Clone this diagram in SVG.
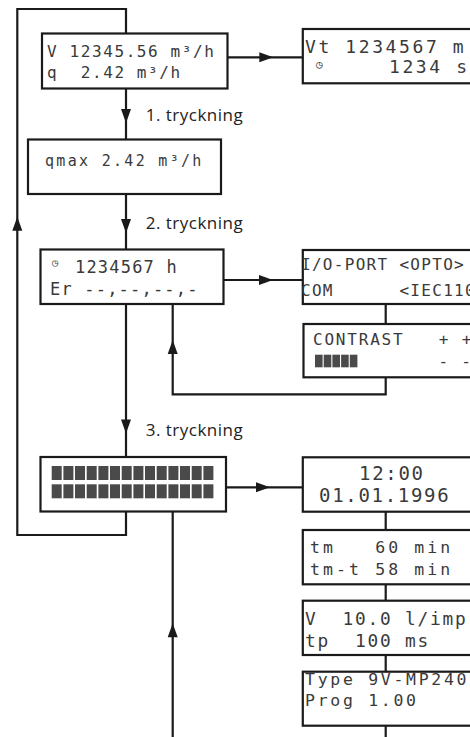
<svg xmlns="http://www.w3.org/2000/svg" xmlns:xlink="http://www.w3.org/1999/xlink" width="470" height="737" viewBox="0 0 470 737">
<style>
.box{fill:#fff;stroke:#1a1a1a;stroke-width:2.2}
.ln{fill:none;stroke:#1a1a1a;stroke-width:2.2}
.ah{fill:#1a1a1a}
.lcd{font-family:"DejaVu Sans Mono","Liberation Mono",monospace;fill:#3a3a3a}
.lbl{font-family:"Open Sans","Noto Sans","Liberation Sans",sans-serif;font-size:17px;fill:#222}
.blk{fill:#4a4a4a}
</style>
<defs>
<path id="ah" d="M0,0 L-14,-5 L-14,5 Z"/>
</defs>
<g id="connectors">
<path class="ln" d="M126,511.7 V535 H17.3 V9 H126 V33.3"/>
<path class="ln" d="M126,88.3 V139.3"/>
<path class="ln" d="M126,194 V249.3"/>
<path class="ln" d="M126,304 V456.7"/>
<path class="ln" d="M227.7,57.3 H302.3"/>
<path class="ln" d="M223.3,280 H302.3"/>
<path class="ln" d="M226,487.3 H302.3"/>
<path class="ln" d="M385.7,304 V324"/>
<path class="ln" d="M385.7,377.3 V394.3 H172.7 V304"/>
<path class="ln" d="M385.7,511.7 V530"/>
<path class="ln" d="M385.7,584.3 V600.7"/>
<path class="ln" d="M385.7,655 V671.7"/>
<path class="ln" d="M385.7,725.7 V737"/>
<path class="ln" d="M172.7,737 V511.7"/>
<use xlink:href="#ah" class="ah" transform="translate(126,123) rotate(90)"/>
<use xlink:href="#ah" class="ah" transform="translate(126,233) rotate(90)"/>
<use xlink:href="#ah" class="ah" transform="translate(126,433.5) rotate(90)"/>
<use xlink:href="#ah" class="ah" transform="translate(273.3,57.3)"/>
<use xlink:href="#ah" class="ah" transform="translate(273,280)"/>
<use xlink:href="#ah" class="ah" transform="translate(270,487.3)"/>
<use xlink:href="#ah" class="ah" transform="translate(17.3,216.7) rotate(-90)"/>
<use xlink:href="#ah" class="ah" transform="translate(172.7,340) rotate(-90)"/>
<use xlink:href="#ah" class="ah" transform="translate(172.7,623.3) rotate(-90)"/>
</g>
<g id="labels">
<text class="lbl" x="145.7" y="120.5" textLength="97" lengthAdjust="spacing">1. tryckning</text>
<text class="lbl" x="145.7" y="229" textLength="97" lengthAdjust="spacing">2. tryckning</text>
<text class="lbl" x="145.7" y="436" textLength="97" lengthAdjust="spacing">3. tryckning</text>
</g>
<g id="node-flow">
<rect class="box" x="42" y="33.5" width="185.5" height="55"/>
<text class="lcd" x="47" y="57" font-size="16" letter-spacing="1.6" xml:space="preserve">V 12345.56 m³/h</text>
<text class="lcd" x="47" y="78.3" font-size="16" letter-spacing="1.6" xml:space="preserve">q  2.42 m³/h</text>
</g>
<g id="node-qmax">
<rect class="box" x="28" y="139.5" width="193" height="54.5"/>
<text class="lcd" x="45" y="165.5" font-size="15" letter-spacing="2.3" xml:space="preserve">qmax 2.42 m³/h</text>
</g>
<g id="node-hours">
<rect class="box" x="40.5" y="249.5" width="183" height="54.5"/>
<text class="lcd" x="52" y="266" font-size="10">◷</text>
<text class="lcd" x="75" y="273" font-size="17" letter-spacing="1.2" xml:space="preserve">1234567 h</text>
<text class="lcd" x="50" y="294.7" font-size="17" letter-spacing="1.2" xml:space="preserve">Er --,--,--,-</text>
</g>
<g id="node-display-test">
<rect class="box" x="40.5" y="457" width="185.5" height="54.5"/>
<g class="blk">
<rect x="51.7" y="466" width="10" height="14"/><rect x="63.4" y="466" width="10" height="14"/><rect x="75" y="466" width="10" height="14"/><rect x="86.7" y="466" width="10" height="14"/><rect x="98.4" y="466" width="10" height="14"/><rect x="110" y="466" width="10" height="14"/><rect x="121.7" y="466" width="10" height="14"/><rect x="133.4" y="466" width="10" height="14"/><rect x="145" y="466" width="10" height="14"/><rect x="156.7" y="466" width="10" height="14"/><rect x="168.4" y="466" width="10" height="14"/><rect x="180" y="466" width="10" height="14"/><rect x="191.7" y="466" width="10" height="14"/><rect x="203.4" y="466" width="10" height="14"/>
<rect x="51.7" y="484.3" width="10" height="14"/><rect x="63.4" y="484.3" width="10" height="14"/><rect x="75" y="484.3" width="10" height="14"/><rect x="86.7" y="484.3" width="10" height="14"/><rect x="98.4" y="484.3" width="10" height="14"/><rect x="110" y="484.3" width="10" height="14"/><rect x="121.7" y="484.3" width="10" height="14"/><rect x="133.4" y="484.3" width="10" height="14"/><rect x="145" y="484.3" width="10" height="14"/><rect x="156.7" y="484.3" width="10" height="14"/><rect x="168.4" y="484.3" width="10" height="14"/><rect x="180" y="484.3" width="10" height="14"/><rect x="191.7" y="484.3" width="10" height="14"/><rect x="203.4" y="484.3" width="10" height="14"/>
</g>
</g>
<g id="node-volume-total">
<rect class="box" x="302.8" y="29" width="200" height="54.3"/>
<text class="lcd" x="305" y="53" font-size="18" letter-spacing="2.6" xml:space="preserve">Vt 1234567 m</text>
<text class="lcd" x="316" y="68" font-size="11">◷</text>
<text class="lcd" x="389" y="73" font-size="18" letter-spacing="2.6" xml:space="preserve">1234 s</text>
</g>
<g id="node-io-port">
<rect class="box" x="302.8" y="250" width="200" height="54"/>
<text class="lcd" x="301" y="269.7" font-size="16" letter-spacing="1.3" xml:space="preserve">I/O-PORT &lt;OPTO&gt;</text>
<text class="lcd" x="301" y="296.3" font-size="16" letter-spacing="1.3" xml:space="preserve">COM      &lt;IEC1107</text>
</g>
<g id="node-contrast">
<rect class="box" x="303.5" y="324" width="200" height="53.3"/>
<text class="lcd" x="313" y="344.7" font-size="16" letter-spacing="1.8" xml:space="preserve">CONTRAST   + +</text>
<g class="blk">
<rect x="315" y="354.7" width="7.6" height="12.6"/><rect x="323.7" y="354.7" width="7.6" height="12.6"/><rect x="332.4" y="354.7" width="7.6" height="12.6"/><rect x="341.1" y="354.7" width="7.6" height="12.6"/><rect x="349.8" y="354.7" width="7.6" height="12.6"/>
</g>
<text class="lcd" x="438.4" y="366.7" font-size="16" letter-spacing="1.8" xml:space="preserve">- -</text>
</g>
<g id="node-clock">
<rect class="box" x="302.8" y="457.3" width="200" height="54.4"/>
<text class="lcd" x="359" y="480" font-size="19" letter-spacing="1.7" xml:space="preserve">12:00</text>
<text class="lcd" x="319" y="501.7" font-size="19" letter-spacing="1.7" xml:space="preserve">01.01.1996</text>
</g>
<g id="node-tm">
<rect class="box" x="302.8" y="530" width="200" height="54.3"/>
<text class="lcd" x="310" y="553.3" font-size="16.5" letter-spacing="3.1" xml:space="preserve">tm   60 min</text>
<text class="lcd" x="310" y="575" font-size="16.5" letter-spacing="3.1" xml:space="preserve">tm-t 58 min</text>
</g>
<g id="node-pulse">
<rect class="box" x="302.8" y="600.7" width="200" height="54.3"/>
<text class="lcd" x="305" y="625" font-size="17.8" letter-spacing="1.8" xml:space="preserve">V  10.0 l/imp</text>
<text class="lcd" x="305" y="646.7" font-size="17.8" letter-spacing="1.8" xml:space="preserve">tp  100 ms</text>
</g>
<g id="node-type">
<rect class="box" x="302.8" y="671.7" width="200" height="54"/>
<text class="lcd" x="305" y="685" font-size="16.5" letter-spacing="2.7" xml:space="preserve">Type 9V-MP240</text>
<text class="lcd" x="305" y="706" font-size="16.5" letter-spacing="2.7" xml:space="preserve">Prog 1.00</text>
</g>
</svg>
